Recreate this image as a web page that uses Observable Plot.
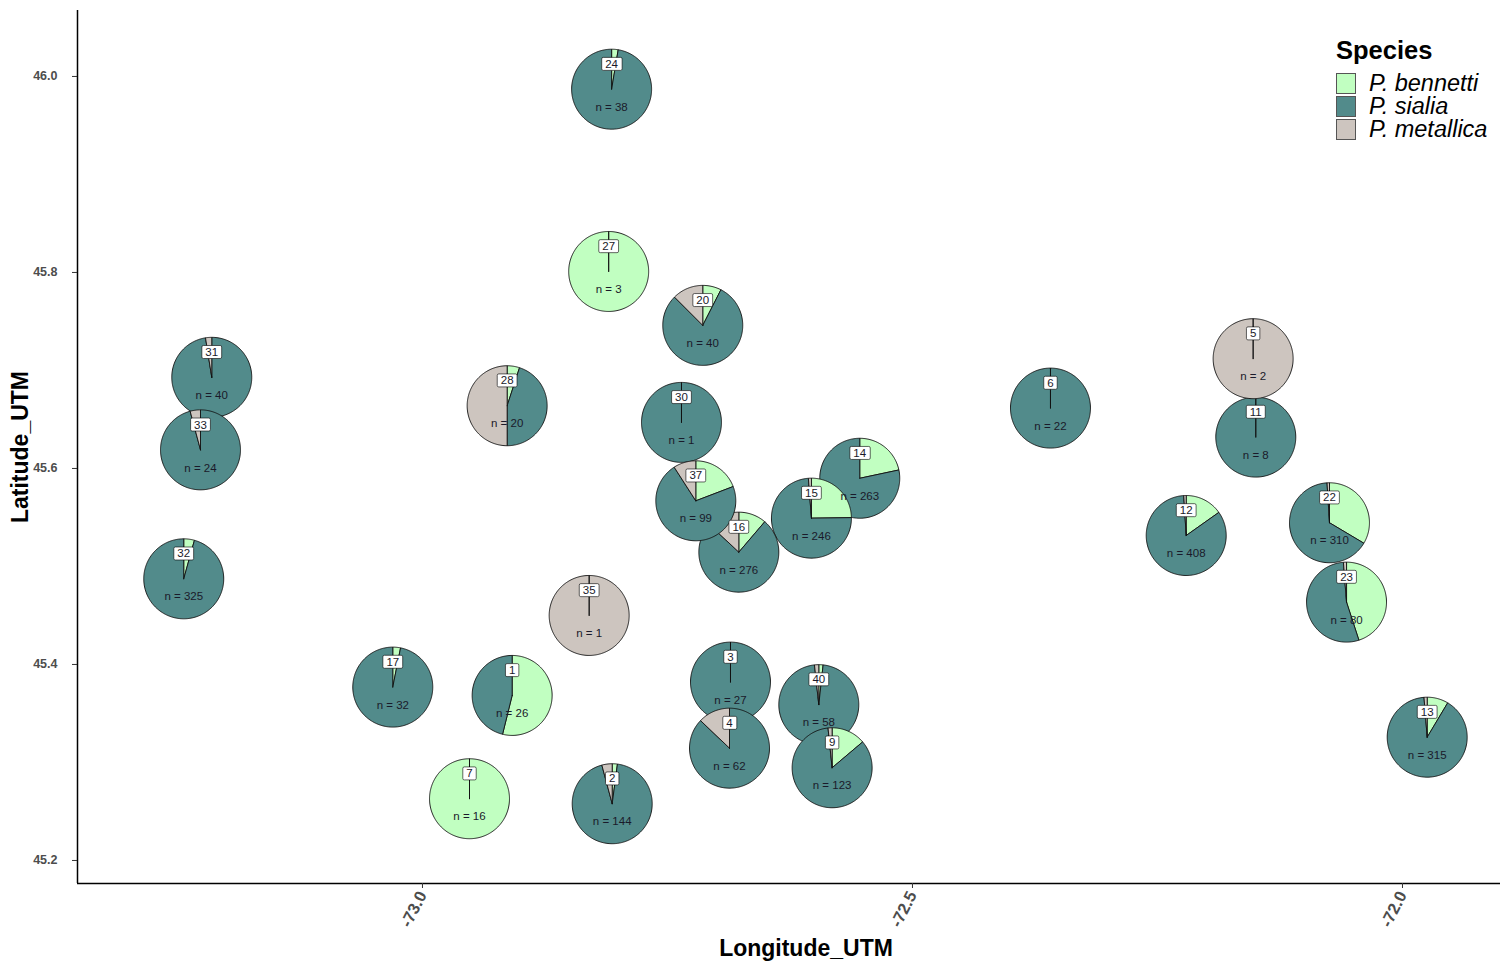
<!DOCTYPE html>
<html><head><meta charset="utf-8">
<script src="https://cdn.jsdelivr.net/npm/d3@7"></script>
<script src="https://cdn.jsdelivr.net/npm/@observablehq/plot@0.6"></script>
<style>
body{margin:0;background:#fff;font-family:"Liberation Sans",Arial,sans-serif;}
#wrap{position:relative;width:1510px;height:965px;overflow:hidden;}
#legend{position:absolute;left:1336px;top:35px;color:#000;}
#legend .lt{font-weight:bold;font-size:25.5px;line-height:30px;margin-bottom:7px;}
#legend .row{display:flex;align-items:center;height:23px;}
#legend .key{width:20px;height:21px;border:1px solid #555;box-sizing:border-box;margin-right:13px;}
#legend .lab{font-style:italic;font-size:23.5px;line-height:23px;}
</style></head><body><div id="wrap"></div>
<script>
// ---- data (sampling sites, drawn in this order) ----
const sites = ["1","11","12","13","14","15","16","17","2","20","22","23","24","27","28","3","30","31","32","33","35","37","4","40","5","6","7","9"];
const lon = [-72.9085,-72.1497,-72.2207,-71.9748,-72.5538,-72.6031,-72.6772,-73.0303,-72.8064,-72.7140,-72.0745,-72.0571,-72.8070,-72.8100,-72.9136,-72.6857,-72.7357,-73.2150,-73.2436,-73.2265,-72.8299,-72.7211,-72.6867,-72.5956,-72.1524,-72.3592,-72.9520,-72.5820];
const lat = [45.3684,45.6320,45.5316,45.3258,45.5900,45.5493,45.5146,45.3769,45.2579,45.7460,45.5446,45.4636,45.9870,45.8010,45.6640,45.3820,45.6470,45.6930,45.4874,45.6190,45.4500,45.5670,45.3146,45.3590,45.7120,45.6616,45.2630,45.2946];
const nTotal = [26,8,408,315,263,246,276,32,144,40,310,80,38,3,20,27,1,40,325,24,1,99,62,58,2,22,16,123];
const bennetti  = [14,0,62,27,57,61,31,1,3,3,104,36,1,3,1,0,0,0,14,0,0,19,0,1,0,0,16,17];
const sialia    = [12,8,342,284,206,182,209,31,135,32,203,43,37,0,9,27,1,39,311,23,0,71,54,56,0,22,0,104];
const metallica = [0,0,4,4,0,3,36,0,6,5,3,1,0,0,10,0,0,1,0,1,1,9,8,1,2,0,0,2];
const species = ["P. bennetti","P. sialia","P. metallica"];
const speciesColors = ["#C1FFC1","#528B8B","#CDC5BF"];
const xTicks = [-73.0,-72.5,-72.0];
const yTicks = [45.2,45.4,45.6,45.8,46.0];
const xDomain = [-73.352,-71.900];
const yDomain = [45.1765,46.0673];
const xTitle = "Longitude_UTM";
const yTitle = "Latitude_UTM";
const legendTitle = "Species";

// pie radius in degrees (both axes share the same px/degree)
const R = 0.0408;

const slices = [];
sites.forEach((s, i) => {
  const counts = [bennetti[i], sialia[i], metallica[i]];
  const total = d3.sum(counts);
  let a0 = 0;
  counts.forEach((c, k) => {
    if (c <= 0) return;
    const a1 = a0 + c / total * 2 * Math.PI;
    const steps = Math.max(2, Math.ceil((a1 - a0) / (Math.PI / 120)));
    const id = s + "-" + k;
    slices.push({id, x: lon[i], y: lat[i], sp: species[k]});
    for (let j = 0; j <= steps; j++) {
      const a = a0 + (a1 - a0) * j / steps;
      slices.push({id, x: lon[i] + R * Math.sin(a), y: lat[i] + R * Math.cos(a), sp: species[k]});
    }
    slices.push({id, x: lon[i], y: lat[i], sp: species[k]});
    a0 = a1;
  });
});

const siteRows = sites.map((s, i) => ({s, x: lon[i], y: lat[i], n: nTotal[i]}));
const tickFont = "'Liberation Sans', Arial, sans-serif";

const chart = Plot.plot({
  width: 1510, height: 965,
  marginLeft: 77, marginRight: 10, marginTop: 10, marginBottom: 82,
  style: {fontFamily: "'Liberation Sans', Arial, sans-serif", background: "#fff"},
  x: {domain: xDomain},
  y: {domain: yDomain},
  color: {domain: species, range: speciesColors},
  marks: [
    Plot.line(slices, {x: "x", y: "y", z: "id", fill: "sp", stroke: "#111", strokeWidth: 0.9, curve: "linear", strokeLinejoin: "round"}),
    Plot.text(siteRows, {x: "x", y: "y", text: d => "n = " + d.n, dy: 18, fontSize: 11.5, fill: "#1a1a2a"}),
    Plot.text(siteRows, {x: "x", y: "y", text: "s", dy: -25, fontSize: 11.5, fill: "#1a1a2a", className: "idlab"}),
    Plot.ruleX([xDomain[0]], {stroke: "#000", strokeWidth: 1.5}),
    Plot.ruleY([yDomain[0]], {stroke: "#000", strokeWidth: 1.5}),
    Plot.axisX({ticks: xTicks, tickFormat: d => d.toFixed(1), tickRotate: -63, tickSize: 5, tickPadding: 4, fontSize: 16.5, fontFamily: tickFont, fontWeight: "bold", fill: "#4D4D4D", stroke: "#333", label: null}),
    Plot.axisY({ticks: yTicks, tickFormat: d => d.toFixed(1), tickSize: 5, tickPadding: 15, fontSize: 12.5, fontFamily: tickFont, fontWeight: "bold", fill: "#4D4D4D", stroke: "#333", label: null}),
    Plot.text([xTitle], {frameAnchor: "bottom", text: d => d, dx: 17, dy: 65, lineAnchor: "middle", textAnchor: "middle", fontSize: 23, fontWeight: "bold", fill: "#000"}),
    Plot.text([yTitle], {frameAnchor: "left", text: d => d, dx: -57, rotate: -90, lineAnchor: "middle", textAnchor: "middle", fontSize: 23, fontWeight: "bold", fill: "#000"})
  ]
});

const wrap = document.getElementById("wrap");
wrap.appendChild(chart);

// white label boxes behind site ids
d3.select(chart).selectAll("g.idlab text").each(function() {
  const b = this.getBBox();
  d3.select(this.parentNode).insert("rect", () => this)
    .attr("x", b.x - 3.5).attr("y", b.y - 0.5)
    .attr("width", b.width + 7).attr("height", b.height + 1)
    .attr("rx", 1.5).attr("fill", "#fff").attr("stroke", "#000").attr("stroke-width", 0.6)
    .attr("transform", this.getAttribute("transform"));
});

// legend
const leg = document.createElement("div");
leg.id = "legend";
leg.innerHTML = `<div class="lt">${legendTitle}</div>` + species.map((s, k) =>
  `<div class="row"><div class="key" style="background:${speciesColors[k]}"></div><div class="lab">${s}</div></div>`).join("");
wrap.appendChild(leg);
</script>
</body></html>
